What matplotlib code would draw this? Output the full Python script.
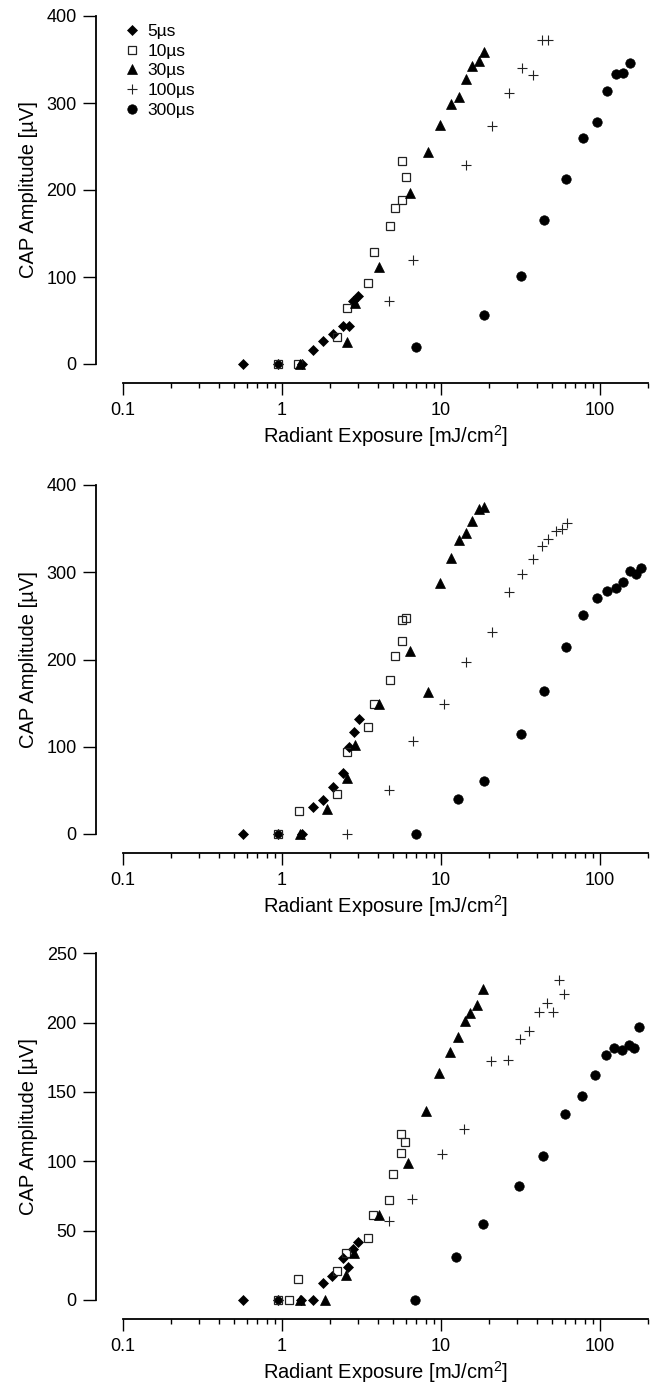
import matplotlib
matplotlib.use("Agg")
import matplotlib.pyplot as plt
from matplotlib.ticker import FixedLocator, FixedFormatter, LogLocator, NullFormatter

plt.rcParams['font.family'] = ['Liberation Sans', 'DejaVu Sans']
plt.rcParams['mathtext.default'] = 'regular'

labels = ['5µs', '10µs', '30µs', '100µs', '300µs']

# panel 1
p1_x5 = [0.57, 0.95, 1.33, 1.57, 1.82, 2.10, 2.41, 2.65, 2.81, 3.02]
p1_y5 = [0, 0, 0, 16, 27, 34, 44, 44, 72, 78]
p1_x10 = [0.95, 1.26, 2.23, 2.55, 3.49, 3.81, 4.78, 5.11, 5.71, 6.03, 5.71]
p1_y10 = [0, 0, 31, 64, 93, 129, 159, 179, 188, 215, 233]
p1_x30 = [1.30, 2.55, 2.88, 4.09, 6.38, 8.25, 9.86, 11.5, 13.0, 14.4, 15.6, 17.2, 18.7]
p1_y30 = [0, 25, 70, 112, 197, 244, 275, 299, 307, 328, 342, 348, 359]
p1_x100 = [4.73, 6.70, 14.3, 20.8, 26.9, 32.2, 37.7, 43.0, 47.3]
p1_y100 = [72, 120, 229, 274, 312, 340, 332, 372, 372]
p1_x300 = [6.93, 18.7, 31.7, 44.4, 61.1, 78.5, 95.3, 111, 126, 140, 155]
p1_y300 = [20, 56, 101, 165, 213, 260, 278, 314, 333, 335, 346]

# panel 2
p2_x5 = [0.57, 0.95, 1.33, 1.57, 1.82, 2.10, 2.41, 2.65, 2.85, 3.05]
p2_y5 = [0, 0, 0, 31, 39, 54, 70, 100, 117, 132]
p2_x10 = [0.95, 1.28, 2.23, 2.55, 3.49, 3.79, 4.78, 5.11, 5.71, 5.71, 6.03]
p2_y10 = [0, 26, 46, 94, 123, 149, 177, 204, 221, 245, 247]
p2_x30 = [1.29, 1.91, 2.55, 2.88, 4.09, 6.38, 8.25, 9.86, 11.5, 13.0, 14.4, 15.6, 17.2, 18.7]
p2_y30 = [0, 29, 64, 102, 149, 210, 163, 288, 316, 337, 345, 359, 373, 375]
p2_x100 = [2.55, 4.73, 6.70, 10.4, 14.3, 20.8, 26.9, 32.2, 37.7, 43.0, 47.3, 52.9, 57.4, 61.7]
p2_y100 = [0, 51, 107, 149, 197, 232, 277, 298, 315, 330, 338, 347, 350, 356]
p2_x300 = [6.93, 12.7, 18.7, 31.7, 44.4, 61.1, 78.5, 95.3, 111, 126, 140, 155, 168, 180]
p2_y300 = [0, 40, 61, 115, 164, 214, 251, 271, 279, 282, 289, 302, 298, 305]

# panel 3
p3_x5 = [0.57, 0.95, 1.31, 1.57, 1.82, 2.07, 2.41, 2.61, 2.81, 3.02]
p3_y5 = [0, 0, 0, 0, 12.5, 17.5, 30, 24, 36.5, 42]
p3_x10 = [0.95, 1.11, 1.26, 2.23, 2.53, 3.47, 3.75, 4.70, 5.0, 5.6, 5.95, 5.6]
p3_y10 = [0, 0, 15, 21, 34, 45, 61, 72, 91, 106, 114, 120]
p3_x30 = [1.29, 1.86, 2.53, 2.85, 4.07, 6.23, 8.05, 9.7, 11.3, 12.7, 14.1, 15.2, 16.8, 18.4]
p3_y30 = [0, 0, 18, 34, 61, 99, 136, 164, 179, 190, 201, 207, 213, 224]
p3_x100 = [4.68, 6.6, 10.2, 14.0, 20.6, 26.5, 31.2, 35.6, 41.5, 46.2, 50.9, 55.5, 59.7]
p3_y100 = [57, 73, 105, 123, 172, 173, 188, 194, 208, 214, 208, 231, 221]
p3_x300 = [6.9, 12.4, 18.4, 31.0, 43.6, 60, 77, 93, 109, 122, 137, 151, 164, 176]
p3_y300 = [0, 31, 55, 82, 104, 134, 147, 162, 177, 182, 180, 184, 182, 197]

panels = [
    (p1_x5, p1_y5, p1_x10, p1_y10, p1_x30, p1_y30, p1_x100, p1_y100, p1_x300, p1_y300),
    (p2_x5, p2_y5, p2_x10, p2_y10, p2_x30, p2_y30, p2_x100, p2_y100, p2_x300, p2_y300),
    (p3_x5, p3_y5, p3_x10, p3_y10, p3_x30, p3_y30, p3_x100, p3_y100, p3_x300, p3_y300),
]
ymaxes = [400, 400, 250]
ysteps = [100, 100, 50]

W, H = 653, 1387
# (top, bottom) pixel rows of the y range in each panel
rows = [(16, 364), (485, 834), (953.3, 1300)]

styles = [
    dict(marker='D', ms=4.9, mfc='black', mec='black', mew=0.5),
    dict(marker='s', ms=6.3, mfc='none', mec='#222222', mew=0.9),
    dict(marker='^', ms=7.4, mfc='black', mec='black', mew=0.5),
    dict(marker='+', ms=7.2, mfc='none', mec='#222222', mew=0.8),
    dict(marker='o', ms=6.8, mfc='black', mec='black', mew=0.5),
]

fig = plt.figure(figsize=(W / 100, H / 100), dpi=100)

for i, data in enumerate(panels):
    top, bot = rows[i]
    ax = fig.add_axes([123 / W, 1 - bot / H, 525 / W, (bot - top) / H])
    for k in range(5):
        ax.plot(data[2 * k], data[2 * k + 1], linestyle='none', clip_on=False,
                label=labels[k], **styles[k])

    ax.set_xscale('log')
    ax.set_xlim(0.1, 200)
    ax.set_ylim(0, ymaxes[i])

    ax.xaxis.set_major_locator(FixedLocator([0.1, 1, 10, 100]))
    ax.xaxis.set_major_formatter(FixedFormatter(['0.1', '1', '10', '100']))
    ax.xaxis.set_minor_locator(LogLocator(base=10, subs=[2, 3, 4, 5, 6, 7, 8, 9], numticks=20))
    ax.xaxis.set_minor_formatter(NullFormatter())
    ax.set_yticks(list(range(0, ymaxes[i] + 1, ysteps[i])))

    for s in ['top', 'right']:
        ax.spines[s].set_visible(False)
    ax.spines['left'].set_position(('outward', 19.4))
    ax.spines['bottom'].set_position(('outward', 13.5))
    ax.spines['left'].set_linewidth(1.3)
    ax.spines['bottom'].set_linewidth(1.3)

    ax.tick_params(axis='y', which='major', length=9.4, width=1.0, pad=4.5, labelsize=13)
    ax.tick_params(axis='x', which='major', length=8.6, width=1.0, pad=5.5, labelsize=13)
    ax.tick_params(axis='x', which='minor', length=3.8, width=1.0)

    ax.set_xlabel('Radiant Exposure [mJ/cm$^{2}$]', fontsize=14.5, labelpad=3)
    ax.set_ylabel('CAP Amplitude [µV]', fontsize=14.5, labelpad=6)

    if i == 0:
        ax.legend(loc='upper left', bbox_to_anchor=(0, 0.978), frameon=False,
                  fontsize=12.5, handlelength=1.0, handletextpad=0.42,
                  labelspacing=0.27, borderpad=0, borderaxespad=0, numpoints=1)

fig.savefig('out.png', dpi=100)
